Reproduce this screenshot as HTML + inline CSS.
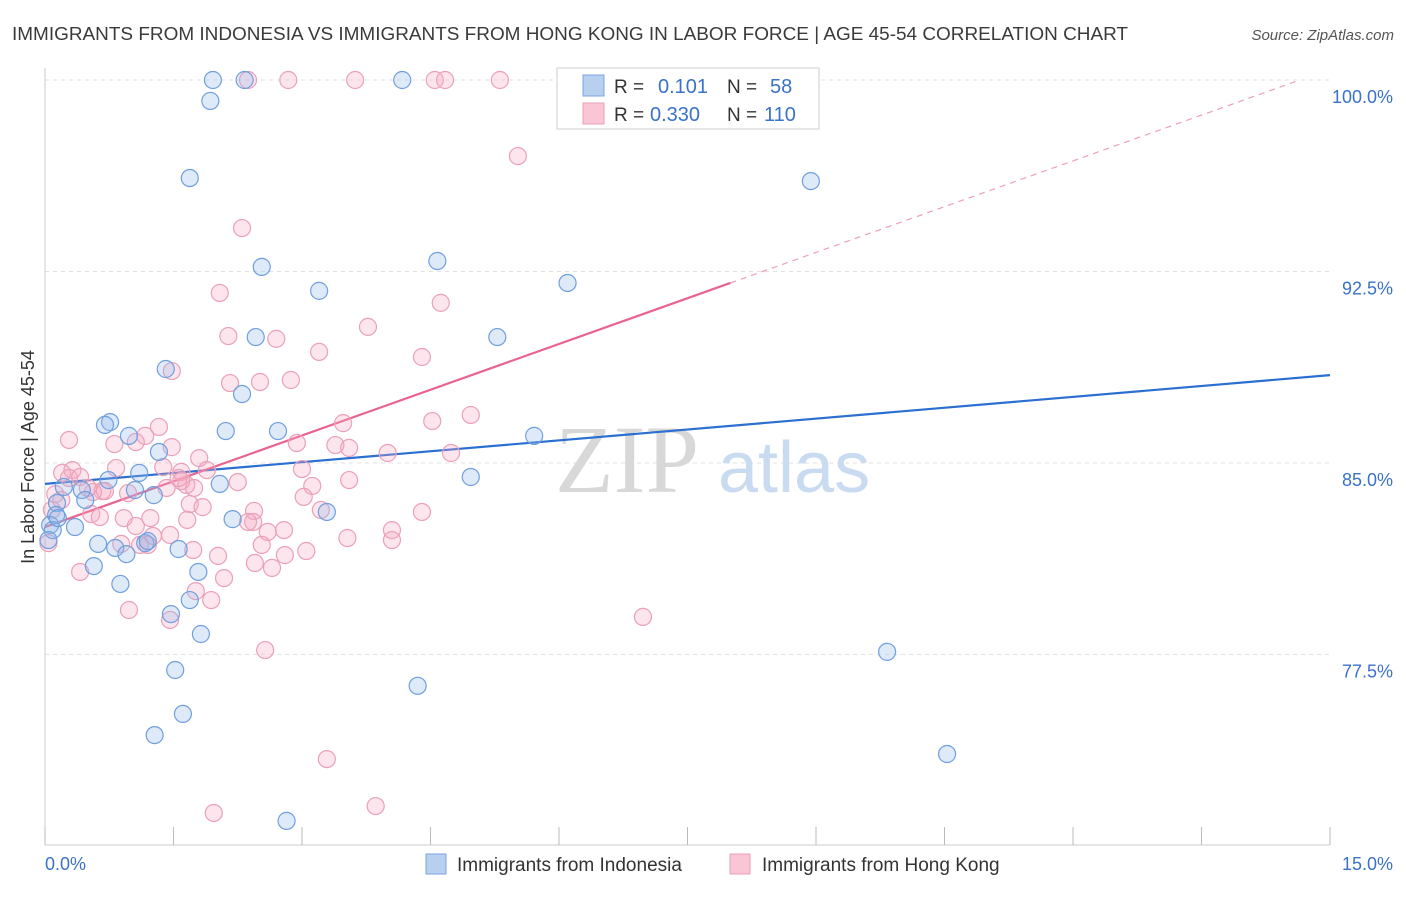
<!DOCTYPE html>
<html><head><meta charset="utf-8"><style>
body{margin:0;background:#fff;font-family:"Liberation Sans",sans-serif}
</style></head><body>
<svg id="chart" width="1406" height="892" xmlns="http://www.w3.org/2000/svg">
<text x="12" y="40" font-size="18" fill="#3a3a3a" textLength="1116" lengthAdjust="spacingAndGlyphs">IMMIGRANTS FROM INDONESIA VS IMMIGRANTS FROM HONG KONG IN LABOR FORCE | AGE 45-54 CORRELATION CHART</text>
<text x="1394" y="40" font-size="15" fill="#555" font-style="italic" text-anchor="end">Source: ZipAtlas.com</text>
<g id="grid"></g>
<text x="555" y="492" font-size="96" fill="#d8d8d8" font-family="Liberation Serif,serif">ZIP</text>
<text x="718" y="492" font-size="72" fill="#c9dbf0">atlas</text>
<g id="lines"></g>
<g id="points"></g>
<text transform="translate(34,457) rotate(-90)" font-size="18" fill="#333" text-anchor="middle">In Labor Force | Age 45-54</text>
<text x="45" y="870" font-size="18" fill="#3a72c8">0.0%</text>
<text x="1393" y="870" font-size="18" fill="#3a72c8" text-anchor="end">15.0%</text>
<g>
<rect x="557" y="68" width="262" height="61" fill="#fff" stroke="#ccc"/>
<rect x="583" y="75" width="21" height="21" fill="#b8d0f0" stroke="#7aa5dd"/>
<rect x="583" y="103" width="21" height="21" fill="#f8c6d4" stroke="#eba0b8"/>
<text x="614" y="93" font-size="19" fill="#333">R =</text>
<text x="658" y="93" font-size="20" fill="#3a72c8">0.101</text>
<text x="727" y="93" font-size="19" fill="#333">N =</text>
<text x="770" y="93" font-size="20" fill="#3a72c8">58</text>
<text x="614" y="121" font-size="19" fill="#333">R =</text>
<text x="650" y="121" font-size="20" fill="#3a72c8">0.330</text>
<text x="727" y="121" font-size="19" fill="#333">N =</text>
<text x="764" y="121" font-size="20" fill="#3a72c8">110</text>
</g>
<g><rect x="426" y="854" width="20" height="20" fill="#b8d0f0" stroke="#7aa5dd"/><text x="457" y="871" font-size="19" fill="#333">Immigrants from Indonesia</text></g>
<g><rect x="730" y="854" width="20" height="20" fill="#f8c6d4" stroke="#eba0b8"/><text x="762" y="871" font-size="19" fill="#333">Immigrants from Hong Kong</text></g>
</svg>
<script>
const yTicks=[100,92.5,85,77.5];
const yTickLabels=["100.0%","92.5%","85.0%","77.5%"];
const blueX=[1.96,2.33,4.17,1.93,1.69,8.94,2.53,4.58,3.20,6.10,2.46,5.28,1.41,2.30,0.76,0.70,2.11,2.72,0.98,5.71,1.33,1.10,4.97,0.74,0.22,0.43,1.05,1.27,2.04,0.47,0.14,0.13,2.19,3.29,0.35,0.06,0.62,0.82,0.95,1.17,1.20,1.56,0.57,1.79,0.88,1.47,1.69,1.82,9.83,1.52,4.35,1.61,1.28,10.53,2.82,0.09,0.15,0.04];
const blueY=[100,100,100,99.18,96.16,96.04,92.68,92.91,91.74,92.05,89.93,89.93,88.68,87.70,86.60,86.49,86.25,86.25,86.06,86.06,85.43,84.61,84.45,84.33,84.06,83.94,83.94,83.74,84.18,83.55,83.43,82.96,82.80,83.08,82.49,82.57,81.83,81.67,81.43,81.86,81.94,81.63,80.96,80.73,80.26,79.08,79.63,78.30,77.60,76.89,76.27,75.17,74.34,73.60,70.98,82.37,82.84,81.98];
const pinkX=[2.37,2.84,3.62,4.55,4.67,5.31,5.52,2.30,2.04,4.62,3.77,2.14,2.70,3.20,4.40,1.48,2.16,2.51,2.87,4.97,3.48,4.52,1.33,0.28,1.17,0.81,1.06,1.48,2.94,3.39,3.55,4.00,4.74,1.80,0.83,0.32,0.20,1.38,1.59,1.89,3.00,0.28,0.41,2.25,3.12,3.55,1.65,1.42,1.74,0.67,0.97,0.56,0.70,0.12,3.02,1.69,1.84,2.44,3.22,0.54,0.92,1.23,1.66,1.06,2.43,2.60,2.79,4.05,1.26,4.40,3.53,4.05,0.89,1.20,2.53,1.73,3.05,2.02,2.80,2.45,2.65,0.41,2.09,1.76,0.98,1.94,1.46,6.98,2.57,3.29,3.86,1.97,0.04,0.08,1.46,0.64,0.50,0.19,1.11,1.59,1.56,2.37];
const pinkY=[100,100,100,100,100,100,97.02,94.20,91.66,91.27,90.33,89.97,89.86,89.35,89.15,88.60,88.13,88.17,88.25,86.88,86.56,86.64,86.41,85.90,86.06,85.74,85.82,85.62,85.78,85.70,85.59,85.39,85.39,85.19,84.80,84.72,84.61,84.84,84.65,84.72,84.76,84.41,84.45,84.25,84.10,84.33,84.14,84.02,84.02,83.90,83.82,83.86,83.90,83.78,83.67,83.39,83.27,83.12,83.16,83.00,82.84,82.84,82.77,82.53,82.69,82.30,82.37,82.37,82.14,83.08,82.06,81.98,81.83,81.79,81.79,81.59,81.55,81.36,81.39,81.08,80.89,80.73,80.49,79.98,79.24,79.63,78.85,78.97,77.67,73.40,71.56,71.29,81.86,83.16,82.18,82.88,84.02,83.55,81.79,84.29,84.41,82.69];
const blueFit=[84.18,88.44];
const pinkFit=[82.49,92.05,8.0,100,14.65];
const NS="http://www.w3.org/2000/svg";
const xs=v=>45+v/15*1285;
const ys=v=>80+(100-v)*25.53;
function mk(tag,attrs,parent){const e=document.createElementNS(NS,tag);for(const k in attrs)e.setAttribute(k,attrs[k]);parent.appendChild(e);return e;}
const grid=document.getElementById('grid');
yTicks.forEach((t,i)=>{
 const l=mk('line',{x1:45,x2:1330,y1:ys(t),y2:ys(t),stroke:'#e2e2e2','stroke-dasharray':'4,4'},grid);
 
 
 const tx=mk('text',{x:1393,y:ys(t)+23,'font-size':18,fill:'#3a72c8','text-anchor':'end'},grid);
 tx.textContent=yTickLabels[i];
 
 
});
const ax=mk('line',{x1:45,x2:1330,y1:845,y2:845,stroke:'#ccc'},grid);


const ay=mk('line',{x1:45,x2:45,y1:68,y2:845,stroke:'#ccc'},grid);


for(let i=0;i<=10;i++){
 const t=mk('line',{x1:xs(i*1.5),x2:xs(i*1.5),y1:827,y2:845,stroke:'#bbb'},grid);
 
 
}
const lines=document.getElementById('lines');
const bl=mk('line',{x1:xs(0),y1:ys(blueFit[0]),x2:xs(15),y2:ys(blueFit[1]),stroke:'#2b6fd0','stroke-width':2.2},lines);


const pl=mk('line',{x1:xs(0),y1:ys(pinkFit[0]),x2:xs(pinkFit[2]),y2:ys(pinkFit[1]),stroke:'#e8638f','stroke-width':2.2},lines);


const pd=mk('line',{x1:xs(pinkFit[2]),y1:ys(pinkFit[1]),x2:xs(pinkFit[4]),y2:ys(pinkFit[3]),stroke:'#eea0b8','stroke-width':1.2,'stroke-dasharray':'6,5'},lines);


const pts=document.getElementById('points');
pinkX.forEach((x,i)=>{
 const c=mk('circle',{cx:xs(x),cy:ys(pinkY[i]),r:8.5,fill:'rgba(245,170,195,0.3)',stroke:'#eba0b8','stroke-width':1.2},pts);
 
 
});
blueX.forEach((x,i)=>{
 const c=mk('circle',{cx:xs(x),cy:ys(blueY[i]),r:8.5,fill:'rgba(150,185,235,0.3)',stroke:'#6f9fdf','stroke-width':1.2},pts);
 
 
});
</script>
</body></html>
